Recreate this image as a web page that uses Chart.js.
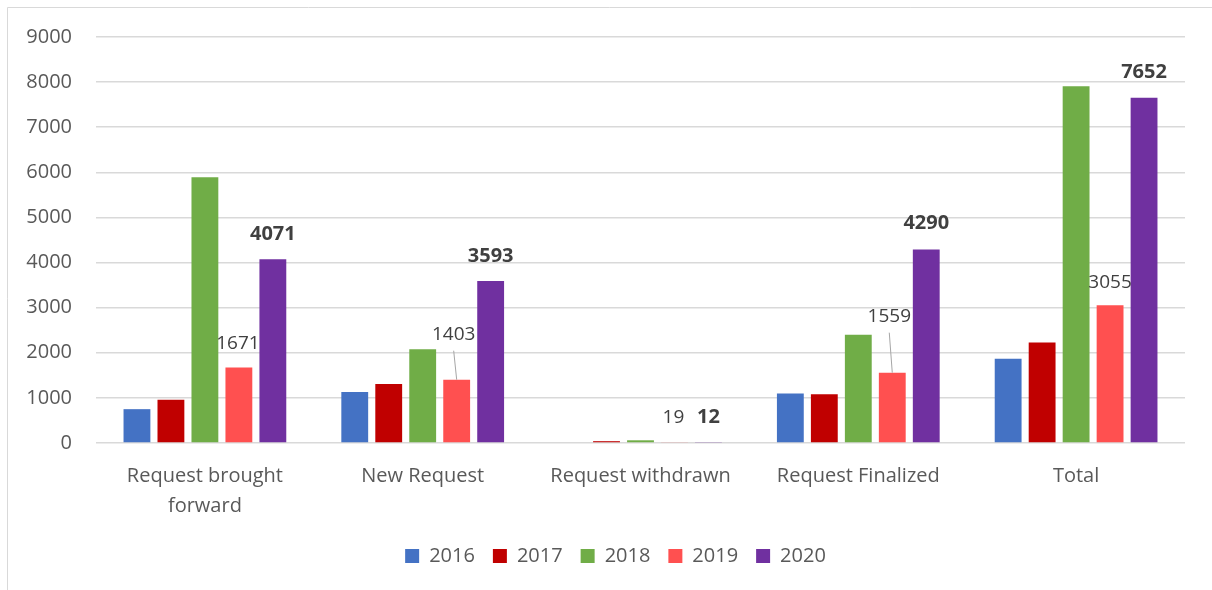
<!DOCTYPE html>
<html>
<head>
<meta charset="utf-8">
<script src="https://cdn.jsdelivr.net/npm/chart.js@4.4.1/dist/chart.umd.min.js"></script>
<style>
  html, body { margin: 0; padding: 0; background: #fff; }
  #wrap { width: 1212px; height: 590px; }
</style>
</head>
<body>
<div id="wrap"><canvas id="requests-chart"></canvas></div>
<script>
const categories = [['Request brought', 'forward'], 'New Request', 'Request withdrawn', 'Request Finalized', 'Total'];
const years = ['2016', '2017', '2018', '2019', '2020'];
const values2016 = [750, 1130, 0, 1100, 1870];
const values2017 = [960, 1310, 40, 1080, 2230];
const values2018 = [5890, 2080, 60, 2400, 7910];
const values2019 = [1671, 1403, 19, 1559, 3055];
const values2020 = [4071, 3593, 12, 4290, 7652];
const yTicks = [0, 1000, 2000, 3000, 4000, 5000, 6000, 7000, 8000, 9000];

const colors = ['#4472C4', '#C00000', '#70AD47', '#FF5050', '#7030A0'];
const textColor = '#595959';
const gridColor = '#D9D9D9';
const fontFamily = '"Open Sans", "Noto Sans", sans-serif';

Chart.defaults.color = textColor;
Chart.defaults.font.family = fontFamily;

const frameBorder = {
  id: 'frameBorder',
  beforeDraw(chart) {
    const { ctx, width, height } = chart;
    ctx.save();
    ctx.fillStyle = '#fff';
    ctx.fillRect(0, 0, width, height);
    ctx.strokeStyle = gridColor;
    ctx.lineWidth = 1;
    ctx.beginPath();
    ctx.moveTo(7.5, height);
    ctx.lineTo(7.5, 7.5);
    ctx.lineTo(width, 7.5);
    ctx.stroke();
    ctx.restore();
  },
};

// nudge the legend so it sits a little right of the canvas centre
const legendShift = {
  id: 'legendShift',
  afterLayout(chart, args, options) {
    if (chart.legend) {
      chart.legend.left += options.dx;
      chart.legend.right += options.dx;
    }
  },
};

const barLabels = {
  id: 'barLabels',
  afterDatasetsDraw(chart, args, options) {
    const ctx = chart.ctx;
    ctx.save();
    ctx.textAlign = 'center';
    ctx.textBaseline = 'middle';
    options.sets.forEach((set) => {
      const meta = chart.getDatasetMeta(set.index);
      const data = chart.data.datasets[set.index].data;
      meta.data.forEach((bar, i) => {
        const lift = set.lift[i];
        const x = bar.x + (set.dx ? set.dx[i] : 0);
        const y = bar.y - lift;
        if (lift > 35) {
          ctx.strokeStyle = '#A6A6A6';
          ctx.lineWidth = 1;
          ctx.beginPath();
          ctx.moveTo(x, y + 16);
          ctx.lineTo(bar.x, bar.y);
          ctx.stroke();
        }
        ctx.font = set.font;
        ctx.fillStyle = '#404040';
        ctx.fillText(String(data[i]), x, y);
      });
    });
    ctx.restore();
  },
};

const seriesValues = [values2016, values2017, values2018, values2019, values2020];

const chartConfig = {
  type: 'bar',
  data: {
    labels: categories,
    datasets: years.map((year, i) => ({
      label: year,
      data: seriesValues[i],
      backgroundColor: colors[i],
      borderWidth: 0,
      categoryPercentage: 0.78,
      barPercentage: 0.79,
    })),
  },
  options: {
    responsive: true,
    maintainAspectRatio: false,
    animation: false,
    layout: {
      padding: { top: 37, right: 27, bottom: 14, left: 0 },
    },
    plugins: {
      legend: {
        position: 'bottom',
        labels: {
          boxWidth: 14,
          boxHeight: 14,
          padding: 18,
          color: textColor,
          font: { size: 20 },
        },
      },
      legendShift: { dx: 23 },
      tooltip: { enabled: false },
      barLabels: {
        sets: [
          { index: 3, lift: [24, 45, 25, 56, 23], dx: [-1, -3, -1, -3, 0], font: '19px ' + fontFamily },
          { index: 4, lift: [25, 25, 25, 26, 26], font: 'bold 20px ' + fontFamily },
        ],
      },
    },
    scales: {
      x: {
        grid: { display: false },
        border: { display: false },
        ticks: {
          color: textColor,
          padding: 10,
          font: { size: 20, lineHeight: 1.5 },
          maxRotation: 0,
          autoSkip: false,
        },
        afterFit(scale) {
          scale.height = 85;
        },
      },
      y: {
        min: 0,
        max: 9000,
        afterBuildTicks(scale) {
          scale.ticks = yTicks.map((v) => ({ value: v }));
        },
        grid: { color: gridColor, lineWidth: 1.5, drawTicks: false },
        border: { display: false },
        ticks: {
          color: textColor,
          padding: 24,
          font: { size: 20 },
          callback: (value) => String(value),
        },
        afterFit(scale) {
          scale.width = 96;
        },
      },
    },
  },
  plugins: [frameBorder, legendShift, barLabels],
};

const ctx = document.getElementById('requests-chart').getContext('2d');
const requestsChart = new Chart(ctx, chartConfig);
</script>
</body>
</html>
